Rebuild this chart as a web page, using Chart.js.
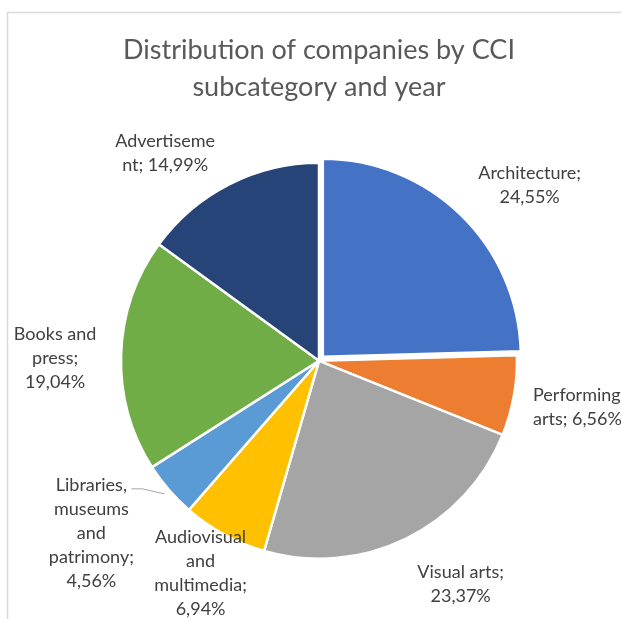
<!DOCTYPE html>
<html>
<head>
<meta charset="utf-8">
<script src="https://cdn.jsdelivr.net/npm/chart.js@4/dist/chart.umd.min.js"></script>
<style>
  html, body { margin: 0; padding: 0; background: #fff; }
  #wrap { width: 621px; height: 619px; position: relative; }
</style>
</head>
<body>
<div id="wrap"><canvas id="pieChart"></canvas></div>
<script>
// data
var categories = ["Architecture", "Performing arts", "Visual arts", "Audiovisual and multimedia",
    "Libraries, museums and patrimony", "Books and press", "Advertisement"];
var shares = [24.55, 6.56, 23.37, 6.94, 4.56, 19.04, 14.99];
var sliceColors = ["#4472C4", "#ED7D31", "#A5A5A5", "#FFC000", "#5B9BD5", "#70AD47", "#264478"];
// label text as wrapped in the picture
var labelLines = [
    ["Architecture;", "24,55%"],
    ["Performing", "arts; 6,56%"],
    ["Visual arts;", "23,37%"],
    ["Audiovisual", "and", "multimedia;", "6,94%"],
    ["Libraries,", "museums", "and", "patrimony;", "4,56%"],
    ["Books and", "press;", "19,04%"],
    ["Advertiseme", "nt; 14,99%"]
];

var FONT = "Lato, 'Open Sans', sans-serif";

// small tweaks so labels sit like Excel put them
var labelNudge = [[28, 12], [-4, 0], [27, -12], [7, -18], [-29, 2], [-2, 5], [-35, 26]];
var labelAlign = ["center", "left", "center", "center", "center", "center", "center"];
var labelLeft = 533;

var framePlugin = {
    id: 'frame',
    beforeDraw: function (chart) {
        var ctx = chart.ctx;
        ctx.save();
        ctx.strokeStyle = "#D9D9D9";
        ctx.lineWidth = 1.5;
        ctx.beginPath();
        ctx.moveTo(7.5, 619);
        ctx.lineTo(7.5, 12.5);
        ctx.lineTo(621, 12.5);
        ctx.stroke();
        ctx.restore();
    }
};

var labelPlugin = {
    id: 'sliceLabels',
    afterDatasetsDraw: function (chart) {
        var ctx = chart.ctx;
        var meta = chart.getDatasetMeta(0);
        ctx.save();
        ctx.font = "18px " + FONT;
        ctx.fillStyle = "#404040";
        ctx.textBaseline = "middle";
        meta.data.forEach(function (arc, i) {
            var p = arc.getProps(['x', 'y', 'startAngle', 'endAngle', 'outerRadius'], true);
            var mid = (p.startAngle + p.endAngle) / 2;
            var d = p.outerRadius + 64;
            var cx = p.x + Math.cos(mid) * d + labelNudge[i][0];
            var cy = p.y + Math.sin(mid) * d + labelNudge[i][1];
            var lines = labelLines[i];
            var lh = 24;
            var top = cy - (lines.length - 1) * lh / 2;
            if (labelAlign[i] === "left") {
                // this one runs off the right edge, so pin its left side
                ctx.textAlign = "left";
                cx = labelLeft;
            } else {
                ctx.textAlign = "center";
            }
            lines.forEach(function (t, k) {
                ctx.fillText(t, cx, top + k * lh);
            });
            if (i === 4) {
                // leader line from the small slice to its label
                var ex = p.x + Math.cos(mid) * (p.outerRadius + 6);
                var ey = p.y + Math.sin(mid) * (p.outerRadius + 6);
                ctx.strokeStyle = "#A6A6A6";
                ctx.lineWidth = 1;
                ctx.beginPath();
                ctx.moveTo(ex - 33, ey - 5);
                ctx.lineTo(ex - 22, ey - 5);
                ctx.lineTo(ex, ey);
                ctx.stroke();
            }
        });
        ctx.restore();
    }
};

var ctxP = document.getElementById("pieChart").getContext('2d');
var myPieChart = new Chart(ctxP, {
    type: 'pie',
    data: {
        labels: categories,
        datasets: [{
            data: shares,
            backgroundColor: sliceColors,
            borderColor: "#FFFFFF",
            borderWidth: 2.5,
            offset: [22, 0, 0, 0, 0, 0, 0],
            radius: 198
        }]
    },
    options: {
        responsive: true,
        maintainAspectRatio: false,
        animation: false,
        layout: { padding: { left: 60, right: 43, top: 0, bottom: 14 } },
        plugins: {
            legend: { display: false },
            tooltip: { enabled: false },
            title: {
                display: true,
                text: ["Distribution of companies by CCI", "subcategory and year"],
                color: "#595959",
                font: { family: FONT, size: 27, weight: 'normal', lineHeight: 1.4 },
                padding: { top: 31, bottom: 10 }
            }
        }
    },
    plugins: [framePlugin, labelPlugin]
});
</script>
</body>
</html>
